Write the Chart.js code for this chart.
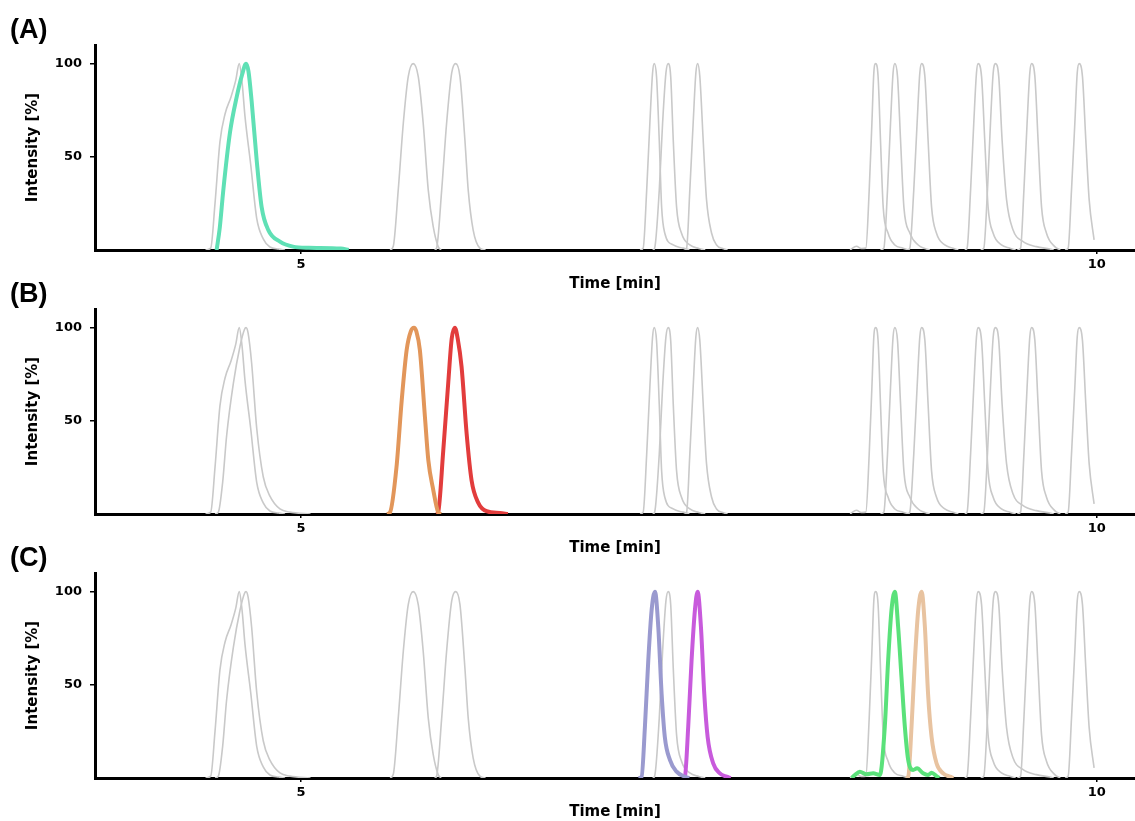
<!DOCTYPE html>
<html>
<head>
<meta charset="utf-8">
<script src="https://cdn.jsdelivr.net/npm/chart.js@4.4.0/dist/chart.umd.min.js"></script>
<style>
  html, body { margin: 0; padding: 0; background: #fff; overflow: hidden; }
  #wrap { position: relative; width: 1135px; height: 821px; }
  .panel { position: absolute; left: 0; width: 1135px; height: 300px; }
  .tag { position: absolute; left: 10px; font: bold 27px "Liberation Sans", Arial, sans-serif; line-height: 27px; color: #000; }
</style>
</head>
<body>
<div id="wrap"></div>
<script>
// retention time [min], intensity [%]
const peak1 = [[4.40,0],[4.433,1],[4.46,25],[4.491,58],[4.523,73],[4.56,82],[4.59,91],[4.612,100],[4.63,90],[4.648,72],[4.684,46],[4.722,17],[4.763,6],[4.805,1.6],[4.86,0.5],[4.90,0]];
const peak2 = [[4.46,0],[4.481,1],[4.508,17],[4.533,42],[4.575,70],[4.617,90],[4.645,99],[4.655,100],[4.668,97],[4.69,81],[4.722,46],[4.763,20],[4.805,9.6],[4.868,2.7],[4.931,1],[5.06,0]];
const peak3 = [[5.56,0],[5.58,2],[5.611,32],[5.643,68],[5.674,93],[5.705,100],[5.737,93],[5.768,68],[5.80,32],[5.831,12.5],[5.862,1.8],[5.88,0]];
const peak4 = [[5.84,0],[5.852,1],[5.884,32],[5.915,68],[5.947,95],[5.972,100],[5.999,93],[6.03,59],[6.051,32],[6.082,10.7],[6.124,1],[6.16,0]];
const peak5 = [[7.13,0],[7.15,1],[7.172,32],[7.192,68],[7.209,95],[7.219,100],[7.234,93],[7.251,59],[7.266,23],[7.286,9],[7.339,2.7],[7.401,1],[7.44,0]];
const peak6 = [[7.21,0],[7.222,1],[7.251,32],[7.272,68],[7.293,95],[7.307,100],[7.323,93],[7.339,59],[7.36,23],[7.391,9],[7.443,2.7],[7.50,0.8],[7.54,0]];
const peak7 = [[7.41,0],[7.423,1],[7.443,32],[7.464,68],[7.481,95],[7.492,100],[7.506,93],[7.527,59],[7.548,27],[7.58,9],[7.611,2.7],[7.65,0.8],[7.68,0]];
const peak8 = [[8.45,0],[8.49,2],[8.52,0.8],[8.549,1],[8.57,32],[8.587,68],[8.599,95],[8.61,100],[8.626,93],[8.641,59],[8.658,23],[8.689,9],[8.731,2.7],[8.783,1],[8.82,0]];
const peak9 = [[8.64,0],[8.662,1],[8.685,32],[8.704,68],[8.72,95],[8.731,100],[8.748,93],[8.767,59],[8.788,23],[8.826,9],[8.878,2.7],[8.92,0.8],[8.95,0]];
const peak10 = [[8.81,0],[8.825,1],[8.85,32],[8.871,68],[8.888,95],[8.899,100],[8.92,93],[8.94,59],[8.962,23],[8.993,9],[9.045,2.7],[9.097,1],[9.13,0]];
const peak11 = [[9.17,0],[9.185,1],[9.207,32],[9.227,68],[9.244,95],[9.254,100],[9.276,93],[9.296,59],[9.317,23],[9.349,9],[9.401,2.7],[9.454,1],[9.49,0]];
const peak12 = [[9.27,0],[9.29,1],[9.313,32],[9.332,68],[9.349,95],[9.364,100],[9.384,93],[9.405,59],[9.433,27],[9.474,10.7],[9.537,4.5],[9.621,1.8],[9.705,0.5],[9.73,0]];
const peak13 = [[9.50,0],[9.521,1],[9.542,32],[9.562,68],[9.579,95],[9.59,100],[9.611,93],[9.631,59],[9.653,23],[9.684,9],[9.736,1.8],[9.77,0]];
const peak14 = [[9.80,0],[9.82,1],[9.841,32],[9.862,68],[9.877,95],[9.889,100],[9.91,93],[9.931,59],[9.952,27],[9.983,5.4]];

// highlighted traces
const tealA = [[4.47,0],[4.49,12],[4.512,32],[4.554,63],[4.596,82],[4.63,94],[4.655,100],[4.67,96],[4.69,80],[4.722,48],[4.753,23],[4.795,10.7],[4.868,4.5],[4.95,1.8],[5.05,1.2],[5.25,0.8],[5.3,0]];
const orangeB = [[5.54,0],[5.56,1],[5.60,25],[5.633,61],[5.664,88],[5.69,98],[5.71,100],[5.725,98],[5.747,88],[5.779,52],[5.80,29],[5.831,13],[5.862,1],[5.88,0]];
const redB = [[5.85,0],[5.862,1],[5.894,34],[5.925,70],[5.947,94],[5.967,100],[5.985,94],[6.009,79],[6.041,43],[6.072,18],[6.114,6],[6.166,1.5],[6.25,0.5],[6.3,0]];
const purpleC = [[7.12,0],[7.14,0.7],[7.161,27.5],[7.182,63],[7.203,90],[7.224,100],[7.245,81],[7.266,45],[7.286,22],[7.318,9.7],[7.36,3.4],[7.412,0.7],[7.44,0]];
const magentaC = [[7.40,0],[7.412,0.7],[7.433,27.5],[7.454,63],[7.475,90],[7.492,100],[7.513,81],[7.534,45],[7.555,22],[7.59,7.9],[7.632,2.5],[7.674,0.7],[7.70,0]];
const greenC = [[8.46,0],[8.48,1.6],[8.511,3.4],[8.553,2],[8.595,2.5],[8.637,1.6],[8.668,27.5],[8.689,63],[8.71,90],[8.731,100],[8.752,81],[8.773,54],[8.794,27.5],[8.815,9.7],[8.846,4.3],[8.871,5.2],[8.909,2.5],[8.94,1.6],[8.962,2.8],[8.993,1],[9.01,0]];
const tanC = [[8.80,0],[8.815,0.7],[8.836,27.5],[8.857,63],[8.878,90],[8.899,100],[8.92,81],[8.94,45],[8.962,22],[8.993,7.9],[9.035,2.5],[9.077,0.7],[9.10,0]];

const grayPeaks = [peak1, peak2, peak3, peak4, peak5, peak6, peak7, peak8, peak9, peak10, peak11, peak12, peak13, peak14];
// which background traces stay grey in each panel (indexes into grayPeaks)
const panelGray = [
  [0, 2, 3, 4, 5, 6, 7, 8, 9, 10, 11, 12, 13],
  [0, 1, 4, 5, 6, 7, 8, 9, 10, 11, 12, 13],
  [0, 1, 2, 3, 5, 7, 10, 11, 12, 13]
];
const panelHighlights = [[tealA], [orangeB, redB], [purpleC, magentaC, greenC, tanC]];
const panelLabels = ["(A)", "(B)", "(C)"];
const xTickValues = [5, 10];
const yTickValues = [50, 100];
const xMin = 3.706, xMax = 10.24;
const yMin = 0, yMax = 110;

const highlightColors = [
  ["#5fe0b5"],
  ["#e2965a", "#e23c3c"],
  ["#9a9acf", "#c85adc", "#5ae17a", "#e8c3a0"]
];
const GRAY = "#c9c9c9";
const axisFont = { family: "'DejaVu Sans', sans-serif", weight: "bold" };

const toXY = arr => arr.map(p => ({ x: p[0], y: p[1] }));
const wrap = document.getElementById("wrap");

panelLabels.forEach((label, i) => {
  const top = 264 * i;
  const div = document.createElement("div");
  div.className = "panel";
  div.style.top = top + "px";
  const canvas = document.createElement("canvas");
  canvas.width = 1135;
  canvas.height = 300;
  div.appendChild(canvas);
  wrap.appendChild(div);

  const tag = document.createElement("div");
  tag.className = "tag";
  tag.style.top = (top + 16) + "px";
  tag.textContent = label;
  wrap.appendChild(tag);

  const datasets = [];
  panelHighlights[i].forEach((pk, j) => {
    datasets.push({
      data: toXY(pk),
      borderColor: highlightColors[i][j],
      borderWidth: 4,
      pointRadius: 0,
      cubicInterpolationMode: "monotone",
      fill: false
    });
  });
  panelGray[i].forEach(k => {
    datasets.push({
      data: toXY(grayPeaks[k]),
      borderColor: GRAY,
      borderWidth: 1.6,
      pointRadius: 0,
      cubicInterpolationMode: "monotone",
      fill: false
    });
  });

  new Chart(canvas.getContext("2d"), {
    type: "line",
    data: { datasets },
    options: {
      responsive: false,
      animation: false,
      events: [],
      layout: { padding: { top: 45, left: 0, right: 0, bottom: 0 } },
      plugins: { legend: { display: false }, tooltip: { enabled: false } },
      scales: {
        x: {
          type: "linear",
          min: xMin,
          max: xMax,
          z: 1,
          afterBuildTicks: s => { s.ticks = xTickValues.map(v => ({ value: v })); },
          afterFit: s => { s.height = 50; },
          grid: { drawOnChartArea: false, drawTicks: true, tickLength: 4, color: "#000", lineWidth: 1.5 },
          border: { display: true, color: "#000", width: 3 },
          ticks: { color: "#000", padding: 3, font: { ...axisFont, size: 13 }, maxRotation: 0 },
          title: { display: true, text: "Time [min]", color: "#000", font: { ...axisFont, size: 15 }, padding: { top: 0, bottom: 7 } }
        },
        y: {
          min: yMin,
          max: yMax,
          z: 1,
          afterBuildTicks: s => { s.ticks = yTickValues.map(v => ({ value: v })); },
          afterFit: s => { s.width = 95; },
          grid: { drawOnChartArea: false, drawTicks: true, tickLength: 5, color: "#000", lineWidth: 1.5 },
          border: { display: true, color: "#000", width: 3 },
          ticks: { color: "#000", padding: 8, font: { ...axisFont, size: 13 } },
          title: { display: true, text: "Intensity [%]", color: "#000", font: { ...axisFont, size: 15 }, padding: { top: 24, bottom: 0 } }
        }
      }
    }
  });
});
</script>
</body>
</html>
